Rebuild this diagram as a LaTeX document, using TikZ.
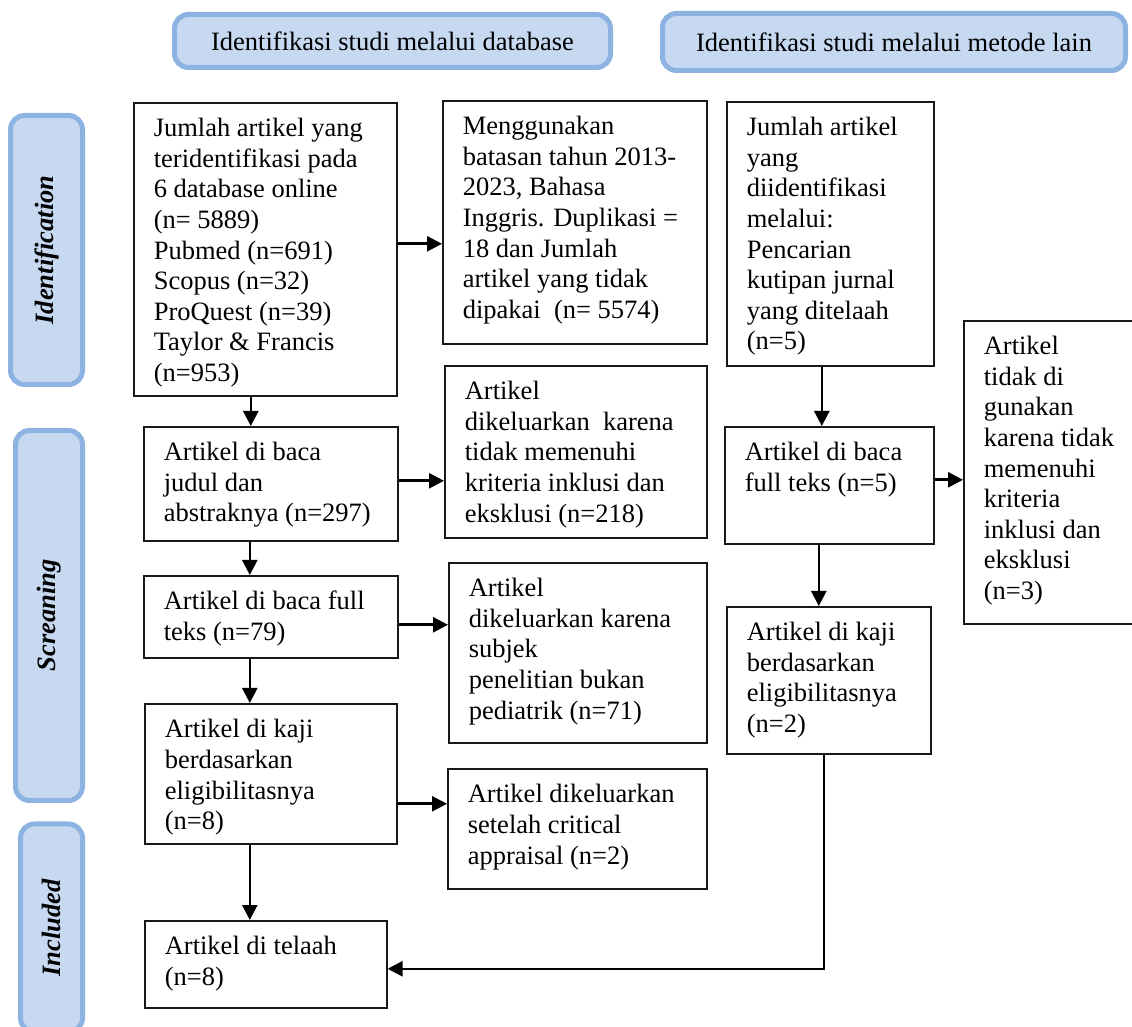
\documentclass[tikz,border=0pt]{standalone}
\usepackage{fontspec}
\setmainfont{Liberation Serif}
\usetikzlibrary{arrows.meta}
\definecolor{stagefill}{HTML}{C6D9F1}
\definecolor{stageline}{HTML}{8DB3E2}
% text of a box: width, height, lines
\newcommand{\boxtext}[3]{\parbox[t][#2][t]{#1}{\raggedright\leftskip=10pt\rule{0pt}{17pt}#3}}
\begin{document}
\begin{tikzpicture}[
  x=0.5pt,y=-0.5pt,
  font=\fontsize{13.25}{15.3}\selectfont,
  stage/.style={draw=stageline, fill=stagefill, line width=2.5pt, rounded corners=7pt, inner sep=0pt},
  sidebar/.style={stage, rotate=90, font=\fontsize{13.25}{15.3}\selectfont\bfseries\itshape},
  flowbox/.style={draw=black!90, line width=0.8pt, anchor=north west, inner sep=0pt},
  arrow/.style={-{Triangle[length=7.5pt,width=7.5pt]}, line width=1.3pt}
]
\clip (0,0) rectangle (1132,1027);

% headers
\node[stage, minimum width=218pt, minimum height=26.5pt] (hdb) at (392.5,41) {Identifikasi studi melalui database};
\node[stage, minimum width=231.5pt, minimum height=28.5pt] (hlain) at (894,42) {Identifikasi studi melalui metode lain};

% stage bars
\node[sidebar, minimum width=134.5pt, minimum height=36pt] (pid) at (46.5,250) {Identification};
\node[sidebar, minimum width=185pt, minimum height=33.5pt] (pscr) at (49,615.5) {Screaning};
\node[sidebar, minimum width=104pt, minimum height=31pt] (pinc) at (51.5,928) {Included};

% database column
\node[flowbox] (b1) at (133,102) {\boxtext{131.5pt}{146.5pt}{Jumlah artikel yang\\
teridentifikasi pada\\
6 database online\\
(n= 5889)\\
Pubmed (n=691)\\
Scopus (n=32)\\
ProQuest (n=39)\\
Taylor \& Francis\\
(n=953)}};
\node[flowbox] (b2) at (442,100) {\boxtext{132pt}{121.5pt}{Menggunakan\\
batasan tahun 2013-\\
2023, Bahasa\\
Inggris. Duplikasi =\\
18 dan Jumlah\\
artikel yang tidak\\
dipakai\ \ (n= 5574)}};
\node[flowbox] (s1) at (143,426) {\boxtext{127pt}{57pt}{Artikel di baca\\
judul dan\\
abstraknya (n=297)}};
\node[flowbox] (e1) at (444,365) {\boxtext{131pt}{86pt}{Artikel\\
dikeluarkan\ \ karena\\
tidak memenuhi\\
kriteria inklusi dan\\
eksklusi (n=218)}};
\node[flowbox] (s2) at (143,575) {\boxtext{127pt}{41pt}{Artikel di baca full\\
teks (n=79)}};
\node[flowbox] (e2) at (448,562) {\boxtext{129pt}{90pt}{Artikel\\
dikeluarkan karena\\
subjek\\
penelitian bukan\\
pediatrik (n=71)}};
\node[flowbox] (s3) at (144,703) {\boxtext{126pt}{70pt}{Artikel di kaji\\
berdasarkan\\
eligibilitasnya\\
(n=8)}};
\node[flowbox] (e3) at (447,768) {\boxtext{129.5pt}{60pt}{Artikel dikeluarkan\\
setelah critical\\
appraisal (n=2)}};
\node[flowbox] (inc) at (144,920) {\boxtext{121pt}{43.5pt}{Artikel di telaah\\
(n=8)}};

% other methods column
\node[flowbox] (o1) at (726,101) {\boxtext{103.5pt}{132pt}{Jumlah artikel\\
yang\\
diidentifikasi\\
melalui:\\
Pencarian\\
kutipan jurnal\\
yang ditelaah\\
(n=5)}};
\node[flowbox] (o2) at (724,426) {\boxtext{104.5pt}{58.5pt}{Artikel di baca\\
full teks (n=5)}};
\node[flowbox] (ox) at (963,320) {\boxtext{90pt}{151.5pt}{Artikel\\
tidak di\\
gunakan\\
karena tidak\\
memenuhi\\
kriteria\\
inklusi dan\\
eksklusi\\
(n=3)}};
\node[flowbox] (o3) at (726,606) {\boxtext{102pt}{73.5pt}{Artikel di kaji\\
berdasarkan\\
eligibilitasnya\\
(n=2)}};

% connectors
\draw[arrow] ([xshift=-7.25pt]b1.south) -- ([xshift=-7.25pt]b1.south |- s1.north);
\draw[arrow] ([yshift=2.75pt]b1.east) -- ([yshift=2.75pt]b1.east -| b2.west);
\draw[arrow] ([yshift=1.5pt]s1.east) -- ([yshift=1.5pt]s1.east -| e1.west);
\draw[arrow] ([xshift=-10.5pt]s1.south) -- ([xshift=-10.5pt]s1.south |- s2.north);
\draw[arrow] ([yshift=-4pt]s2.east) -- ([yshift=-4pt]s2.east -| e2.west);
\draw[arrow] ([xshift=-10.5pt]s2.south) -- ([xshift=-10.5pt]s2.south |- s3.north);
\draw[arrow] ([yshift=-15pt]s3.east) -- ([yshift=-15pt]s3.east -| e3.west);
\draw[arrow] ([xshift=-10.5pt]s3.south) -- ([xshift=-10.5pt]s3.south |- inc.north);
\draw[arrow] ([xshift=-4.25pt]o1.south) -- ([xshift=-4.25pt]o1.south |- o2.north);
\draw[arrow] ([yshift=2.75pt]o2.east) -- ([yshift=2.75pt]o2.east -| ox.west);
\draw[arrow] ([xshift=-5.25pt]o2.south) -- ([xshift=-5.25pt]o2.south |- o3.north);
\draw[arrow] ([xshift=-2.5pt]o3.south) |- ([yshift=-2.25pt]inc.east);
\end{tikzpicture}
\end{document}
